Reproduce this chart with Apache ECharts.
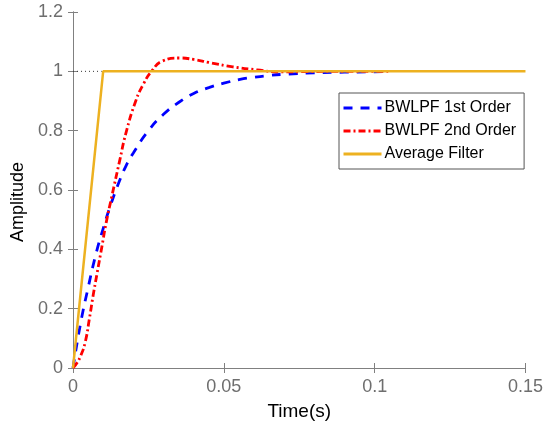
<!DOCTYPE html>
<html>
<head>
<meta charset="utf-8">
<script src="https://cdn.jsdelivr.net/npm/echarts@6/dist/echarts.min.js"></script>
<style>
  html, body { margin: 0; padding: 0; background: #fff; }
  #chart { width: 546px; height: 432px; }
</style>
</head>
<body>
<div id="chart"></div>
<script>
// values
var xTicks = [0, 0.05, 0.1, 0.15];
var yTicks = [0, 0.2, 0.4, 0.6, 0.8, 1, 1.2];

var t1 = [0, 0.0025, 0.005, 0.0075, 0.01, 0.0125, 0.015, 0.0175, 0.02, 0.025, 0.03, 0.035, 0.04, 0.045, 0.05, 0.055, 0.06, 0.065, 0.07, 0.08, 0.09, 0.1045];
var amp1 = [0, 0.15, 0.27, 0.38, 0.47, 0.55, 0.62, 0.68, 0.725, 0.80, 0.855, 0.895, 0.925, 0.945, 0.96, 0.972, 0.98, 0.986, 0.99, 0.995, 0.997, 0.999];

var t2 = [0, 0.0013, 0.0025, 0.004, 0.0055, 0.0066, 0.008, 0.0096, 0.011, 0.0129, 0.0155, 0.0175, 0.0208, 0.0235, 0.026, 0.0297, 0.0353, 0.04, 0.045, 0.053, 0.061, 0.069, 0.078, 0.09, 0.1045];
var amp2 = [0, 0.017, 0.04, 0.085, 0.17, 0.24, 0.32, 0.41, 0.49, 0.58, 0.70, 0.79, 0.90, 0.96, 1.0, 1.035, 1.045, 1.04, 1.03, 1.015, 1.005, 0.998, 0.999, 1.0, 1.0];

var tAvg = [0, 0.01, 0.15];
var ampAvg = [0, 1, 1];

var tRef = [0, 0.0095];
var ampRef = [1, 1];

var names = ['BWLPF 1st Order', 'BWLPF 2nd Order', 'Average Filter'];

function pairs(xs, ys) {
  return xs.map(function(x, i) { return [x, ys[i]]; });
}

var chart = echarts.init(document.getElementById('chart'));
var axisGray = '#808080';
var labelGray = '#6e6e6e';
var font = 'Liberation Sans, Arial, sans-serif';

var option = {
  animation: false,
  backgroundColor: '#fff',
  grid: { left: 73, right: 19, top: 12, bottom: 64 },
  legend: {
    data: names,
    orient: 'vertical',
    left: 339,
    top: 93,
    itemWidth: 38,
    itemHeight: 10,
    itemGap: 7,
    padding: [7, 8, 7, 3],
    borderColor: '#555',
    borderWidth: 1,
    backgroundColor: '#fff',
    itemStyle: { opacity: 0 },
    lineStyle: { width: 3 },
    textStyle: { fontFamily: font, fontSize: 16, color: '#000', padding: [0, 0, 0, -2] }
  },
  xAxis: [{
    type: 'value',
    min: 0, max: 0.15, interval: 0.05,
    name: 'Time(s)',
    nameLocation: 'middle',
    nameGap: 34,
    nameTextStyle: { fontFamily: font, fontSize: 19, color: '#000' },
    axisLine: { lineStyle: { color: axisGray } },
    axisTick: { inside: true, length: 5, lineStyle: { color: axisGray } },
    axisLabel: { fontFamily: font, fontSize: 18, color: labelGray, margin: 10,
      formatter: function(v) { return String(+v.toFixed(2)); } },
    splitLine: { show: false }
  }, {
    type: 'value', position: 'top',
    min: 0, max: 0.15, interval: 0.05,
    axisLine: { show: true, lineStyle: { color: axisGray } },
    axisTick: { inside: true, length: 5, lineStyle: { color: axisGray } },
    axisLabel: { show: false },
    splitLine: { show: false }
  }],
  yAxis: [{
    type: 'value',
    min: 0, max: 1.2, interval: 0.2,
    name: 'Amplitude',
    nameLocation: 'middle',
    nameGap: 46,
    nameTextStyle: { fontFamily: font, fontSize: 18, color: '#000', padding: [0, 24, 0, 0] },
    axisLine: { show: true, lineStyle: { color: axisGray } },
    axisTick: { show: true, inside: true, length: 5, lineStyle: { color: axisGray } },
    axisLabel: { fontFamily: font, fontSize: 18, color: labelGray, margin: 10,
      formatter: function(v) { return String(+v.toFixed(1)); } },
    splitLine: { show: false }
  }, {
    type: 'value', position: 'right',
    min: 0, max: 1.2, interval: 0.2,
    axisLine: { show: true, lineStyle: { color: axisGray } },
    axisTick: { show: true, inside: true, length: 5, lineStyle: { color: axisGray } },
    axisLabel: { show: false },
    splitLine: { show: false }
  }],
  series: [{
    name: 'ref',
    type: 'line',
    data: pairs(tRef, ampRef),
    symbol: 'none',
    silent: true,
    lineStyle: { color: '#333', width: 1, type: [1, 3] },
    z: 1
  }, {
    name: names[0],
    type: 'line',
    data: pairs(t1, amp1),
    smooth: true,
    symbol: 'none',
    color: '#0000ff',
    lineStyle: { width: 2.8, type: [9, 8] },
    z: 2
  }, {
    name: names[1],
    type: 'line',
    data: pairs(t2, amp2),
    smooth: true,
    symbol: 'none',
    color: '#ff0000',
    lineStyle: { width: 2.8, type: [7, 3, 2, 3] },
    z: 3
  }, {
    name: names[2],
    type: 'line',
    data: pairs(tAvg, ampAvg),
    symbol: 'none',
    color: '#edb120',
    lineStyle: { width: 2.5 },
    z: 4
  }]
};

chart.setOption(option);
</script>
</body>
</html>
